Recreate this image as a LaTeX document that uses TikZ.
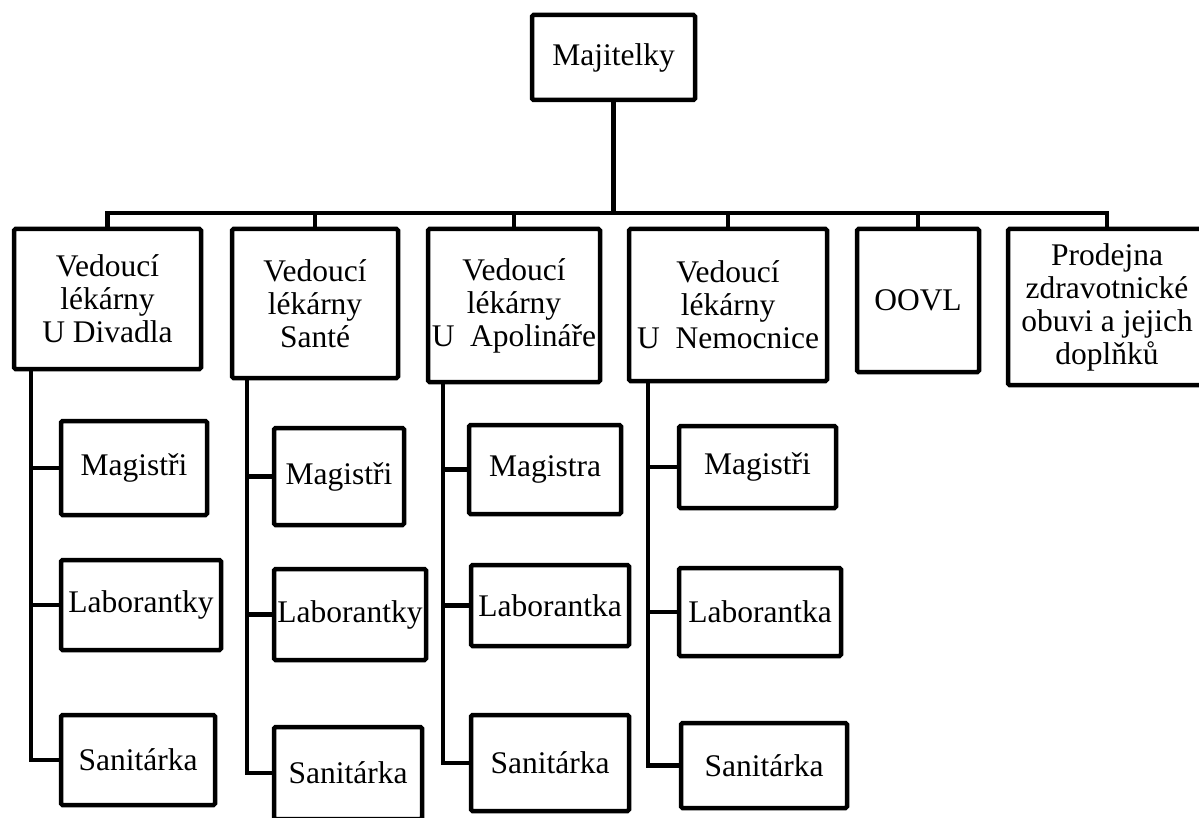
\documentclass[tikz,border=0pt]{standalone}
\usepackage{fontspec}
\setmainfont{Liberation Serif}
\usetikzlibrary{positioning,calc}
\tikzset{
  unit/.style 2 args={
    draw, line width=4.5pt, rounded corners=1.5pt, inner sep=0pt,
    align=center, font=\fontsize{31.5}{33}\selectfont,
    minimum width=#1pt, minimum height=#2pt
  },
  link/.style={line width=4.5pt}
}
\begin{document}
\begin{tikzpicture}[x=1pt, y=-1pt]
  \useasboundingbox (0,0) rectangle (1199,818);
  \node[unit={163}{85}] (boss) at (613.5,57.5) {Majitelky};
  \coordinate (bus) at (613,213);
  \node[unit={187}{140}] (hDiv) at (107.5,299) {Vedoucí\\lékárny\\U Divadla};
  \node[unit={166}{149}] (hSan) at (315,303.5) {Vedoucí\\lékárny\\Santé};
  \node[unit={172}{153}] (hApo) at (514,305.5) {Vedoucí\\lékárny\\U\ \ Apolináře};
  \node[unit={198}{152}] (hNem) at (728,305) {Vedoucí\\lékárny\\U\ \ Nemocnice};
  \node[unit={122}{143}] (oovl) at (918,300.5) {OOVL};
  \node[unit={198}{156}] (shop) at (1107,307) {Prodejna\\zdravotnické\\obuvi a jejich\\doplňků};
  \node[unit={146}{94}] (dMag) at (134,468) {Magistři};
  \node[unit={160}{90}] (dLab) at (141,605) {Laborantky};
  \node[unit={154}{90}] (dSan) at (138,760) {Sanitárka};
  \node[unit={130}{97}] (sMag) at (339,476.5) {Magistři};
  \node[unit={152}{91}] (sLab) at (350,614.5) {Laborantky};
  \node[unit={148}{92}] (sSan) at (348,773) {Sanitárka};
  \node[unit={152}{89}] (aMag) at (545,469.5) {Magistra};
  \node[unit={158}{81}] (aLab) at (550,605.5) {Laborantka};
  \node[unit={158}{96}] (aSan) at (550,763) {Sanitárka};
  \node[unit={157}{82}] (nMag) at (757.5,467) {Magistři};
  \node[unit={162}{88}] (nLab) at (760,612) {Laborantka};
  \node[unit={166}{85}] (nSan) at (764,765.5) {Sanitárka};
  \coordinate (tDiv) at (31,0);
  \coordinate (tSan) at (247,0);
  \coordinate (tApo) at (443,0);
  \coordinate (tNem) at (648,0);
  \draw[link] (boss.south) -- (boss.south |- bus);
  \draw[link] (hDiv.north) |- (bus) -| (shop.north);
  \foreach \n in {hSan,hApo,hNem,oovl}
    \draw[link] (\n.north) -- (\n.north |- bus);
  \foreach \h/\t/\c in {hDiv/tDiv/d,hSan/tSan/s,hApo/tApo/a,hNem/tNem/n} {
    \draw[link] (\h.south -| \t) |- (\c San.west);
    \draw[link] (\c Mag.west) -- (\c Mag.west -| \t);
    \draw[link] (\c Lab.west) -- (\c Lab.west -| \t);
  }
\end{tikzpicture}
\end{document}
